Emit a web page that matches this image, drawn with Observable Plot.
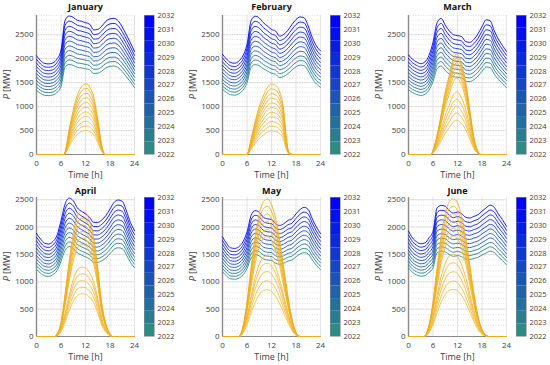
<!DOCTYPE html>
<html><head><meta charset="utf-8">
<script src="https://cdn.jsdelivr.net/npm/d3@7"></script>
<script src="https://cdn.jsdelivr.net/npm/@observablehq/plot@0.6"></script>
<style>
html,body{margin:0;padding:0;background:#fff;}
#chart{position:relative;width:550px;height:365px;overflow:hidden;font-family:"Open Sans",sans-serif;}
#chart svg{position:absolute;overflow:visible;}
</style></head><body><div id="chart"></div>
<script>
// ---- data ----
const months = ["January", "February", "March", "April", "May", "June"];
const years = [2022, 2023, 2024, 2025, 2026, 2027, 2028, 2029, 2030, 2031, 2032];
const xTicks = [0, 6, 12, 18, 24];
const yTicks = [0, 500, 1000, 1500, 2000, 2500];
const yMax = [2900, 2540];
const hours = [0,1,2,3,4,5,6,7,8,9,10,11,12,13,14,15,16,17,18,19,20,21,22,23,24];
// load of each year relative to the 2032 curve
const growth = [0.65, 0.683, 0.716, 0.75, 0.784, 0.819, 0.854, 0.89, 0.926, 0.963, 1.0];
// 2032 load profile (MW) per month
const loadJan = [2060,1960,1900,1890,1910,1990,2180,2800,2890,2860,2800,2780,2750,2720,2600,2610,2680,2780,2830,2840,2790,2660,2500,2330,2150];
const loadFeb = [2090,1990,1920,1905,1950,2060,2300,2790,2885,2850,2750,2680,2610,2575,2470,2505,2590,2710,2815,2870,2850,2680,2440,2265,2160];
const loadMar = [2080,1985,1930,1895,1930,2065,2340,2750,2840,2700,2580,2500,2480,2460,2355,2340,2400,2515,2670,2810,2790,2580,2410,2275,2150];
const loadApr = [1885,1780,1705,1690,1735,1845,2115,2420,2530,2480,2350,2290,2240,2180,2085,2085,2130,2210,2330,2450,2495,2470,2300,2085,1935];
const loadMay = [1820,1700,1620,1610,1640,1730,1910,2210,2300,2270,2180,2150,2140,2060,2030,2060,2120,2150,2240,2320,2360,2320,2150,2000,1880];
const loadJun = [1925,1800,1730,1695,1710,1800,1925,2350,2395,2380,2300,2255,2275,2245,2180,2165,2195,2225,2290,2350,2400,2360,2240,2135,2015];
// PV production: hours, normalized shape, and yearly peak (MW)
const solarHoursJan = [0, 6.8, 7, 8, 9, 10, 11, 12, 12.5, 13, 14, 15, 16, 16.8, 24];
const solarShapeJan = [0, 0, 0.03, 0.35, 0.63, 0.84, 0.96, 1.0, 1.0, 0.96, 0.82, 0.5, 0.12, 0, 0];
const solarPeakJan = [500, 595, 690, 790, 885, 985, 1080, 1180, 1275, 1375, 1470];
const solarHoursFeb = [0, 6.0, 7, 8, 9, 10, 11, 12, 13, 14, 15, 15.5, 16, 16.5, 17, 24];
const solarShapeFeb = [0, 0, 0.22, 0.47, 0.68, 0.83, 0.95, 1.0, 0.98, 0.89, 0.62, 0.3, 0.08, 0.02, 0, 0];
const solarPeakFeb = [490, 590, 685, 785, 880, 980, 1075, 1175, 1270, 1370, 1470];
const solarHoursMar = [0, 5.6, 6, 7, 8, 9, 10, 11, 11.8, 12, 13, 14, 15, 16, 17, 17.7, 24];
const solarShapeMar = [0, 0, 0.04, 0.19, 0.4, 0.62, 0.79, 0.95, 1.0, 0.995, 0.9, 0.72, 0.45, 0.17, 0.03, 0, 0];
const solarPeakMar = [714, 865, 1005, 1155, 1310, 1600, 1710, 1815, 1915, 2010, 2100];
const solarHoursApr = [0, 4.6, 5, 6, 7, 8, 9, 10, 11, 12, 13, 14, 15, 16, 17, 18, 18.6, 24];
const solarShapeApr = [0, 0, 0.02, 0.11, 0.34, 0.6, 0.82, 0.96, 1.0, 0.99, 0.92, 0.79, 0.55, 0.26, 0.1, 0.02, 0, 0];
const solarPeakApr = [780, 900, 1020, 1145, 1265, 1680, 1800, 1920, 2040, 2160, 2290];
const solarHoursMay = [0, 4, 5, 6, 7, 8, 9, 10, 11, 12, 13, 14, 15, 16, 17, 18, 19, 24];
const solarShapeMay = [0, 0, 0.07, 0.25, 0.5, 0.73, 0.89, 0.98, 1.0, 0.96, 0.86, 0.7, 0.5, 0.3, 0.13, 0.03, 0, 0];
const solarPeakMay = [856, 1018, 1187, 1340, 1480, 1830, 1960, 2100, 2240, 2380, 2510];
const solarHoursJun = [0, 3.8, 5, 6, 7, 8, 9, 10, 11, 12, 13, 14, 15, 16, 17, 18, 19, 19.6, 24];
const solarShapeJun = [0, 0, 0.08, 0.25, 0.5, 0.73, 0.89, 0.98, 1.0, 0.97, 0.87, 0.72, 0.52, 0.32, 0.15, 0.05, 0.01, 0, 0];
const solarPeakJun = [862, 1013, 1183, 1347, 1500, 1840, 1975, 2110, 2245, 2380, 2518];

const loads = [loadJan, loadFeb, loadMar, loadApr, loadMay, loadJun];
const solarHours = [solarHoursJan, solarHoursFeb, solarHoursMar, solarHoursApr, solarHoursMay, solarHoursJun];
const solarShapes = [solarShapeJan, solarShapeFeb, solarShapeMar, solarShapeApr, solarShapeMay, solarShapeJun];
const solarPeaks = [solarPeakJan, solarPeakFeb, solarPeakMar, solarPeakApr, solarPeakMay, solarPeakJun];

// ---- style ----
const loadColor = d3.interpolateRgb("#2b8c83", "#0000ff");
const solarColor = d3.interpolateRgb("#f4bf45", "#eeab18");
const FONT = "'Open Sans', sans-serif";
const chart = document.getElementById("chart");

function place(svg, left, top) {
  svg.style.left = left + "px";
  svg.style.top = top + "px";
  chart.appendChild(svg);
}

months.forEach((m, idx) => {
  const col = idx % 3, row = Math.floor(idx / 3);
  const ymax = yMax[row];
  const minor = d3.range(0, ymax + 1, 100);
  const marks = [
    Plot.gridY(minor, {stroke: "#cfcfcf", strokeOpacity: 1, strokeDasharray: "1,1.5", strokeWidth: 0.6}),
    Plot.gridY(yTicks, {stroke: "#d9d9d9", strokeOpacity: 1, strokeWidth: 0.7}),
    Plot.gridX(xTicks, {stroke: "#d9d9d9", strokeOpacity: 1, strokeWidth: 0.7}),
    Plot.ruleX([0], {stroke: "#8a8a8a", strokeWidth: 1.4}),
    Plot.ruleY([0], {stroke: "#8a8a8a", strokeWidth: 1})
  ];
  years.forEach((yr, k) => {
    const d = hours.map((h, j) => ({x: h, y: loads[idx][j] * growth[k]}));
    marks.push(Plot.line(d, {x: "x", y: "y", stroke: loadColor(k / 10), strokeWidth: 0.9, curve: "monotone-x"}));
  });
  years.forEach((yr, k) => {
    const d = solarHours[idx].map((h, j) => ({x: h, y: solarShapes[idx][j] * solarPeaks[idx][k]}));
    marks.push(Plot.line(d, {x: "x", y: "y", stroke: solarColor(k / 10), strokeWidth: 0.9, curve: "monotone-x"}));
  });
  marks.push(
    Plot.axisX(xTicks, {tickSize: 0, tickPadding: 6, label: null, tickFormat: d => String(d)}),
    Plot.axisY(yTicks, {tickSize: 0, tickPadding: 3, label: null, tickFormat: d => String(d)}),
    Plot.text([m], {frameAnchor: "top", lineAnchor: "middle", dy: row === 0 ? -8.5 : -6.5, text: d => d, fontWeight: "bold", fontSize: 9, fill: "#111"}),
    Plot.text(["Time [h]"], {frameAnchor: "bottom", lineAnchor: "middle", dy: 21, text: d => d, fontSize: 9, fill: "#404040"})
  );
  const svg = Plot.plot({
    width: 138, height: 182,
    marginLeft: 36, marginRight: 4, marginTop: 15, marginBottom: 28,
    style: {fontFamily: FONT, fontSize: "8px", color: "#404040", background: "transparent", overflow: "visible"},
    x: {domain: [0, 24], label: null},
    y: {domain: [0, ymax], label: null},
    marks
  });
  // y label with italic P
  const lab = d3.select(svg).append("text")
    .attr("transform", `translate(8,${15 + 139 / 2}) rotate(-90)`)
    .attr("text-anchor", "middle").attr("dominant-baseline", "middle")
    .attr("font-size", 9).attr("fill", "#404040").attr("font-family", FONT);
  lab.append("tspan").attr("font-style", "italic").text("P");
  lab.append("tspan").text(" [MW]");
  place(svg, col * 186, row * 182);

  // colorbar
  const bands = years.map((yr, k) => ({x1: 0, x2: 1, y1: 2022 + k * 10 / 11, y2: 2022 + (k + 1) * 10 / 11, c: loadColor(k / 10)}));
  const cb = Plot.plot({
    width: 34, height: 182,
    marginLeft: 0, marginRight: 24, marginTop: 15, marginBottom: 28,
    style: {fontFamily: FONT, fontSize: "7.5px", color: "#404040", background: "transparent", overflow: "visible"},
    x: {domain: [0, 1], axis: null},
    y: {domain: [2022, 2032], label: null},
    marks: [
      ...bands.map(b => Plot.rect([b], {x1: "x1", x2: "x2", y1: "y1", y2: "y2", fill: b.c})),
      Plot.frame({stroke: "#8a8a8a", strokeWidth: 0.6}),
      Plot.axisY(years, {anchor: "right", tickSize: 0, tickPadding: 3, tickFormat: d => String(d), label: null})
    ]
  });
  place(cb, [144, 330, 516][col], row * 182);
});
</script></body></html>
